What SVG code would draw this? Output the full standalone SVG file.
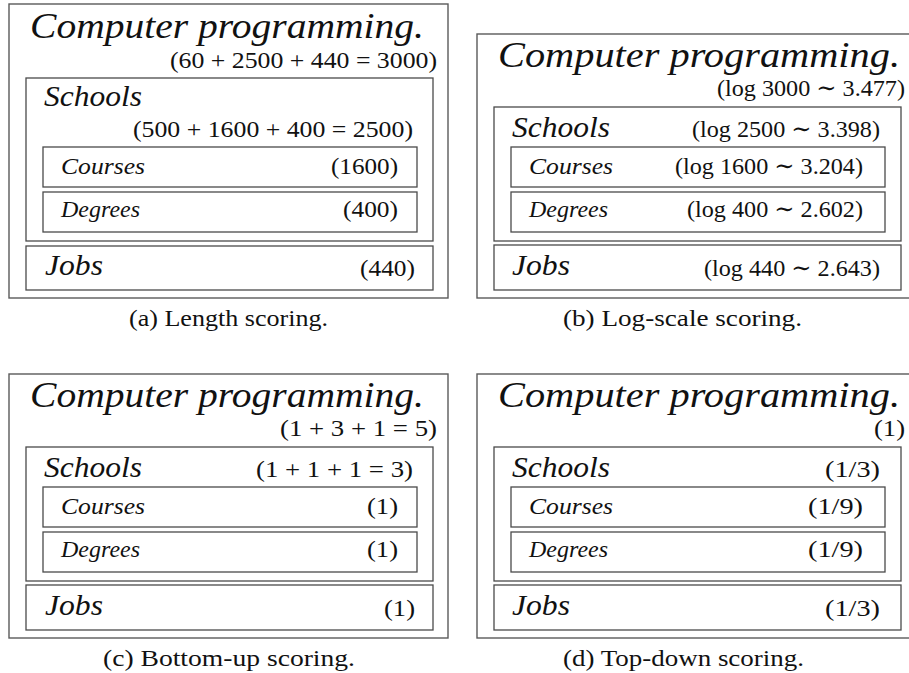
<svg xmlns="http://www.w3.org/2000/svg" width="909" height="673" viewBox="0 0 909 673">
<style>
.bx{fill:none;stroke:#4a4a4a;stroke-width:1.3}
.ob{fill:none;stroke:#5a5a5a;stroke-width:1.4}
.t{font-family:"Liberation Serif","DejaVu Serif",serif;fill:#111}
.ti{font-style:italic;font-size:36px}
.h2{font-style:italic;font-size:30px}
.h3{font-style:italic;font-size:23px}
.n{font-size:24px}
.cap{font-size:24px}
</style>
<rect width="909" height="673" fill="#fff"/>
<g id="connectors"/>

<!-- Panel (a) -->
<g id="a-programming">
<rect class="ob" x="9" y="4" width="439" height="294"/>
<text class="t ti" x="30" y="38" textLength="394" lengthAdjust="spacingAndGlyphs">Computer programming.</text>
<text class="t n" x="170" y="68" textLength="267" lengthAdjust="spacingAndGlyphs">(60 + 2500 + 440 = 3000)</text>
</g>
<g id="a-schools">
<rect class="bx" x="26" y="78" width="407" height="163"/>
<text class="t h2" x="44" y="106" textLength="98" lengthAdjust="spacingAndGlyphs">Schools</text>
<text class="t n" x="133" y="137" textLength="280" lengthAdjust="spacingAndGlyphs">(500 + 1600 + 400 = 2500)</text>
</g>
<g id="a-courses">
<rect class="bx" x="43" y="147" width="374" height="40"/>
<text class="t h3" x="61" y="174" textLength="84" lengthAdjust="spacingAndGlyphs">Courses</text>
<text class="t n" x="331" y="174" textLength="67" lengthAdjust="spacingAndGlyphs">(1600)</text>
</g>
<g id="a-degrees">
<rect class="bx" x="43" y="192" width="374" height="40"/>
<text class="t h3" x="61" y="217" textLength="79" lengthAdjust="spacingAndGlyphs">Degrees</text>
<text class="t n" x="343" y="217" textLength="55" lengthAdjust="spacingAndGlyphs">(400)</text>
</g>
<g id="a-jobs">
<rect class="bx" x="26" y="246" width="407" height="44"/>
<text class="t h2" x="45" y="275" textLength="58" lengthAdjust="spacingAndGlyphs">Jobs</text>
<text class="t n" x="360" y="276" textLength="55" lengthAdjust="spacingAndGlyphs">(440)</text>
</g>
<text id="a-caption" class="t cap" x="129" y="326" textLength="199" lengthAdjust="spacingAndGlyphs">(a) Length scoring.</text>

<!-- Panel (b) -->
<g id="b-programming">
<rect class="ob" x="477" y="34" width="439" height="264"/>
<text class="t ti" x="498" y="67" textLength="402" lengthAdjust="spacingAndGlyphs">Computer programming.</text>
<text class="t n" x="717" y="96" textLength="188" lengthAdjust="spacingAndGlyphs">(log 3000 ∼ 3.477)</text>
</g>
<g id="b-schools">
<rect class="bx" x="494" y="107" width="407" height="134"/>
<text class="t h2" x="512" y="137" textLength="98" lengthAdjust="spacingAndGlyphs">Schools</text>
<text class="t n" x="692" y="137" textLength="188" lengthAdjust="spacingAndGlyphs">(log 2500 ∼ 3.398)</text>
</g>
<g id="b-courses">
<rect class="bx" x="511" y="147" width="374" height="40"/>
<text class="t h3" x="529" y="174" textLength="84" lengthAdjust="spacingAndGlyphs">Courses</text>
<text class="t n" x="675" y="174" textLength="188" lengthAdjust="spacingAndGlyphs">(log 1600 ∼ 3.204)</text>
</g>
<g id="b-degrees">
<rect class="bx" x="511" y="192" width="374" height="40"/>
<text class="t h3" x="529" y="217" textLength="79" lengthAdjust="spacingAndGlyphs">Degrees</text>
<text class="t n" x="687" y="217" textLength="176" lengthAdjust="spacingAndGlyphs">(log 400 ∼ 2.602)</text>
</g>
<g id="b-jobs">
<rect class="bx" x="494" y="245" width="407" height="45"/>
<text class="t h2" x="512" y="275" textLength="58" lengthAdjust="spacingAndGlyphs">Jobs</text>
<text class="t n" x="704" y="276" textLength="176" lengthAdjust="spacingAndGlyphs">(log 440 ∼ 2.643)</text>
</g>
<text id="b-caption" class="t cap" x="563" y="326" textLength="239" lengthAdjust="spacingAndGlyphs">(b) Log-scale scoring.</text>

<!-- Panel (c) -->
<g id="c-programming">
<rect class="ob" x="9" y="374" width="439" height="264"/>
<text class="t ti" x="30" y="407" textLength="394" lengthAdjust="spacingAndGlyphs">Computer programming.</text>
<text class="t n" x="280" y="436" textLength="157" lengthAdjust="spacingAndGlyphs">(1 + 3 + 1 = 5)</text>
</g>
<g id="c-schools">
<rect class="bx" x="26" y="447" width="407" height="134"/>
<text class="t h2" x="44" y="477" textLength="98" lengthAdjust="spacingAndGlyphs">Schools</text>
<text class="t n" x="256" y="477" textLength="157" lengthAdjust="spacingAndGlyphs">(1 + 1 + 1 = 3)</text>
</g>
<g id="c-courses">
<rect class="bx" x="43" y="487" width="374" height="40"/>
<text class="t h3" x="61" y="514" textLength="84" lengthAdjust="spacingAndGlyphs">Courses</text>
<text class="t n" x="367" y="514" textLength="31" lengthAdjust="spacingAndGlyphs">(1)</text>
</g>
<g id="c-degrees">
<rect class="bx" x="43" y="532" width="374" height="40"/>
<text class="t h3" x="61" y="557" textLength="79" lengthAdjust="spacingAndGlyphs">Degrees</text>
<text class="t n" x="367" y="557" textLength="31" lengthAdjust="spacingAndGlyphs">(1)</text>
</g>
<g id="c-jobs">
<rect class="bx" x="26" y="585" width="407" height="45"/>
<text class="t h2" x="45" y="615" textLength="58" lengthAdjust="spacingAndGlyphs">Jobs</text>
<text class="t n" x="384" y="616" textLength="31" lengthAdjust="spacingAndGlyphs">(1)</text>
</g>
<text id="c-caption" class="t cap" x="103" y="666" textLength="252" lengthAdjust="spacingAndGlyphs">(c) Bottom-up scoring.</text>

<!-- Panel (d) -->
<g id="d-programming">
<rect class="ob" x="477" y="374" width="439" height="264"/>
<text class="t ti" x="498" y="407" textLength="402" lengthAdjust="spacingAndGlyphs">Computer programming.</text>
<text class="t n" x="874" y="436" textLength="31" lengthAdjust="spacingAndGlyphs">(1)</text>
</g>
<g id="d-schools">
<rect class="bx" x="494" y="447" width="407" height="134"/>
<text class="t h2" x="512" y="477" textLength="98" lengthAdjust="spacingAndGlyphs">Schools</text>
<text class="t n" x="825" y="477" textLength="55" lengthAdjust="spacingAndGlyphs">(1/3)</text>
</g>
<g id="d-courses">
<rect class="bx" x="511" y="487" width="374" height="40"/>
<text class="t h3" x="529" y="514" textLength="84" lengthAdjust="spacingAndGlyphs">Courses</text>
<text class="t n" x="808" y="514" textLength="55" lengthAdjust="spacingAndGlyphs">(1/9)</text>
</g>
<g id="d-degrees">
<rect class="bx" x="511" y="532" width="374" height="40"/>
<text class="t h3" x="529" y="557" textLength="79" lengthAdjust="spacingAndGlyphs">Degrees</text>
<text class="t n" x="808" y="557" textLength="55" lengthAdjust="spacingAndGlyphs">(1/9)</text>
</g>
<g id="d-jobs">
<rect class="bx" x="494" y="585" width="407" height="45"/>
<text class="t h2" x="512" y="615" textLength="58" lengthAdjust="spacingAndGlyphs">Jobs</text>
<text class="t n" x="825" y="616" textLength="55" lengthAdjust="spacingAndGlyphs">(1/3)</text>
</g>
<text id="d-caption" class="t cap" x="563" y="666" textLength="241" lengthAdjust="spacingAndGlyphs">(d) Top-down scoring.</text>
</svg>
